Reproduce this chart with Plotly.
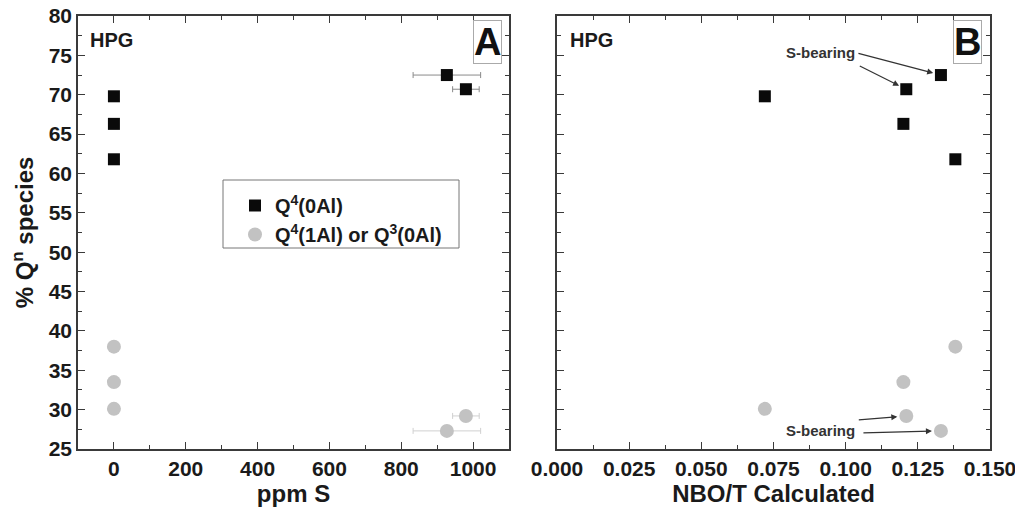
import plotly.graph_objects as go

# ---- data ----
ppm_s = [0, 0, 0, 927, 980]
ppm_s_err = [0, 0, 0, 94, 37]
nbo_t = [0.072, 0.120, 0.138, 0.133, 0.121]
q4_0al = [69.8, 66.3, 61.8, 72.5, 70.7]
q4_1al_q3_0al = [30.1, 33.5, 38.0, 27.3, 29.2]
series_names = ["Q<sup>4</sup>(0Al)", "Q<sup>4</sup>(1Al) or Q<sup>3</sup>(0Al)"]
s_bearing_idx = [3, 4]

FONT = "Liberation Sans, Arial, sans-serif"
BLACK = "#0a0a0a"
GREY = "#c2c2c2"
AXC = "#3a3a3a"
TXT = "#1a1a1a"

fig = go.Figure()

# Panel A
fig.add_trace(go.Scatter(
    x=ppm_s, y=q4_0al, mode="markers", name=series_names[0],
    marker=dict(symbol="square", size=12, color=BLACK),
    error_x=dict(type="data", array=ppm_s_err, color="#8a8a8a", thickness=1, width=3),
    xaxis="x", yaxis="y"))
fig.add_trace(go.Scatter(
    x=ppm_s, y=q4_1al_q3_0al, mode="markers", name=series_names[1],
    marker=dict(symbol="circle", size=14, color=GREY),
    error_x=dict(type="data", array=ppm_s_err, color="#d0d0d0", thickness=1, width=3),
    xaxis="x", yaxis="y"))

# Panel B
fig.add_trace(go.Scatter(
    x=nbo_t, y=q4_0al, mode="markers", showlegend=False,
    marker=dict(symbol="square", size=12, color=BLACK),
    xaxis="x2", yaxis="y2"))
fig.add_trace(go.Scatter(
    x=nbo_t, y=q4_1al_q3_0al, mode="markers", showlegend=False,
    marker=dict(symbol="circle", size=14, color=GREY),
    xaxis="x2", yaxis="y2"))

# page body has an 8px margin: figure is drawn at (8, 8)
OFF = 8
W, H = 1023 - OFF, 513 - OFF
def px(x):
    return (x - OFF) / W
def py(y):
    return 1 - (y - OFF) / H

tickfont = dict(family=FONT, size=21, color=TXT, weight="bold")
titlefont = dict(family=FONT, size=24, color=TXT, weight="bold")

common_ax = dict(
    showgrid=False, zeroline=False, showline=True, linecolor=AXC, linewidth=1.5,
    mirror="ticks", ticks="inside", ticklen=7, tickwidth=1.3, tickcolor=AXC,
    tickfont=tickfont, automargin=False, ticklabeloverflow="allow",
)

fig.update_layout(
    width=W, height=H,
    margin=dict(l=0, r=0, t=0, b=0, autoexpand=False),
    paper_bgcolor="white", plot_bgcolor="white",
    showlegend=True,
    xaxis=dict(domain=[px(78), px(509)], anchor="y", range=[-100, 1100],
               tick0=0, dtick=200,
               minor=dict(ticks="inside", ticklen=4, dtick=100, tickcolor=AXC, tickwidth=1),
               title=dict(text="ppm S", font=titlefont, standoff=4),
               **common_ax),
    yaxis=dict(domain=[py(449), py(16)], anchor="x", range=[25, 80], dtick=5,
               minor=dict(ticks="inside", ticklen=4, dtick=2.5, tickcolor=AXC, tickwidth=1),
               title=dict(text="% Q<sup>n</sup> species", font=titlefont, standoff=21),
               **common_ax),
    xaxis2=dict(domain=[px(557), px(990)], anchor="y2", range=[0, 0.15],
                tick0=0, dtick=0.025, tickformat=".3f",
                minor=dict(ticks="inside", ticklen=4, dtick=0.0125, tickcolor=AXC, tickwidth=1),
                title=dict(text="NBO/T Calculated", font=titlefont, standoff=4),
                **common_ax),
    yaxis2=dict(domain=[py(449), py(16)], anchor="x2", range=[25, 80], dtick=5,
                showticklabels=False,
                minor=dict(ticks="inside", ticklen=4, dtick=2.5, tickcolor=AXC, tickwidth=1),
                **common_ax),
    legend=dict(x=px(235), y=py(186), xanchor="left", yanchor="top",
                borderwidth=0, bgcolor="rgba(0,0,0,0)",
                font=dict(family=FONT, size=20, color=TXT, weight="bold"),
                itemwidth=30, tracegroupgap=0),
    shapes=[dict(type="rect", xref="paper", yref="paper",
                 x0=px(223), x1=px(459), y0=py(248), y1=py(180),
                 line=dict(color="#777", width=1), fillcolor="white", layer="above")],
)

ann = []
# HPG labels
for xx in [88, 568]:
    ann.append(dict(x=px(xx), y=py(40), xref="paper", yref="paper", text="HPG",
                    showarrow=False, xanchor="left", yanchor="middle",
                    font=dict(family=FONT, size=20, color=TXT, weight="bold")))
# Panel letters
for letter, xc in [("A", 487), ("B", 967)]:
    ann.append(dict(x=px(xc), y=py(41.5), xref="paper", yref="paper", text=letter,
                    showarrow=False, xanchor="center", yanchor="middle",
                    font=dict(family=FONT, size=38, color="#111", weight="bold"),
                    bordercolor="#aaa", borderwidth=1, borderpad=0))
# S-bearing text
sb_font = dict(family=FONT, size=15, color="#333", weight="bold")
ann.append(dict(x=px(820), y=py(53), xref="paper", yref="paper", text="S-bearing",
                showarrow=False, xanchor="center", yanchor="middle", font=sb_font))
ann.append(dict(x=px(820), y=py(430), xref="paper", yref="paper", text="S-bearing",
                showarrow=False, xanchor="center", yanchor="middle", font=sb_font))
# arrows to S-bearing points (panel B)
arrow_style = dict(showarrow=True, arrowhead=2, arrowsize=1, arrowwidth=1.2,
                   arrowcolor="#333", text="", xref="x2", yref="y2")
top_offsets = {3: (-84, -22), 4: (-48, -24)}
bot_offsets = {3: (-79, 2), 4: (-49, 4)}
for i in s_bearing_idx:
    ann.append(dict(x=nbo_t[i], y=q4_0al[i], ax=top_offsets[i][0], ay=top_offsets[i][1],
                    standoff=8, **arrow_style))
    ann.append(dict(x=nbo_t[i], y=q4_1al_q3_0al[i], ax=bot_offsets[i][0], ay=bot_offsets[i][1],
                    standoff=9, **arrow_style))
fig.update_layout(annotations=ann)

fig.write_html("out.html")
